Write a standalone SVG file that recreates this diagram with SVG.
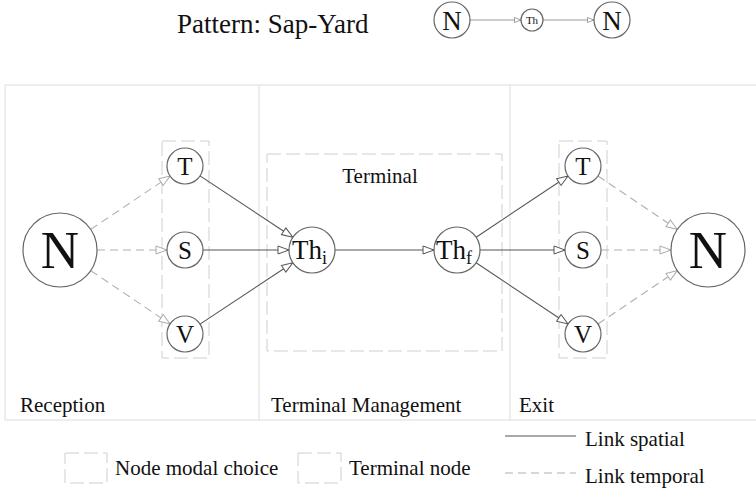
<svg xmlns="http://www.w3.org/2000/svg" width="756" height="492" viewBox="0 0 756 492" font-family="'Liberation Serif', 'DejaVu Serif', serif">
<style>
text{font-family:'Liberation Serif','DejaVu Serif',serif;fill:#111}
.frame{stroke:#dcdcdc;stroke-width:1;fill:none}
.box{stroke:#cfcfcf;stroke-width:1;fill:none;stroke-dasharray:14 5}
.node{fill:#fff;stroke:#666;stroke-width:1.2}
.sp{stroke:#555;stroke-width:1.1;fill:none}
.tp{stroke:#b0b0b0;stroke-width:1.1;fill:none;stroke-dasharray:8 5}
.lab{font-size:21px}
.c{text-anchor:middle}
.m{font-size:25px}
</style>
<defs>
<marker id="a" markerUnits="userSpaceOnUse" markerWidth="14" markerHeight="12" refX="12" refY="5" orient="auto" viewBox="0 0 14 10">
<path d="M1,1 L12,5 L1,9 Z" fill="#fff" stroke="#555" stroke-width="1"/>
</marker>
<marker id="at" markerUnits="userSpaceOnUse" markerWidth="14" markerHeight="12" refX="12" refY="5" orient="auto" viewBox="0 0 14 10">
<path d="M1,1 L12,5 L1,9 Z" fill="#fff" stroke="#aaa" stroke-width="1"/>
</marker>
<marker id="as" markerUnits="userSpaceOnUse" markerWidth="8" markerHeight="8" refX="7" refY="3" orient="auto" viewBox="0 0 8 6">
<path d="M0.5,0.5 L7,3 L0.5,5.5 Z" fill="#fff" stroke="#888" stroke-width="0.8"/>
</marker>
</defs>

<g id="title">
<text x="177" y="33" font-size="27">Pattern: Sap-Yard</text>
</g>
<g id="pattern-connectors">
<line x1="470" y1="20" x2="521" y2="20" stroke="#999" stroke-width="1" marker-end="url(#as)"/>
<line x1="543" y1="20" x2="594" y2="20" stroke="#999" stroke-width="1" marker-end="url(#as)"/>
</g>
<g id="pattern-n1"><circle class="node" cx="452" cy="20" r="18"/><text class="c" x="452" y="29.5" font-size="27">N</text></g>
<g id="pattern-th"><circle class="node" cx="532" cy="20" r="11"/><text class="c" x="532" y="24" font-size="11">Th</text></g>
<g id="pattern-n2"><circle class="node" cx="612" cy="20" r="18"/><text class="c" x="612" y="29.5" font-size="27">N</text></g>

<g id="frame">
<line class="frame" x1="5" y1="85" x2="756" y2="85"/>
<line class="frame" x1="5" y1="420" x2="756" y2="420"/>
<line class="frame" x1="5" y1="85" x2="5" y2="420"/>
<line class="frame" x1="259" y1="85" x2="259" y2="420"/>
<line class="frame" x1="510" y1="85" x2="510" y2="420"/>
<text class="lab" x="20" y="412">Reception</text>
<text class="lab" x="271" y="412">Terminal Management</text>
<text class="lab" x="519" y="412">Exit</text>
</g>

<g id="modal-box-left"><rect class="box" x="162" y="141" width="47" height="217"/></g>
<g id="terminal-box"><rect class="box" x="267" y="154" width="235" height="197"/><text class="lab c" x="380" y="183">Terminal</text></g>
<g id="modal-box-right"><rect class="box" x="559" y="141" width="48" height="217"/></g>

<g id="connectors">
<line class="tp" x1="90.7" y1="229.4" x2="170.1" y2="176" marker-end="url(#at)"/>
<line class="tp" x1="97" y1="250" x2="167" y2="250" marker-end="url(#at)"/>
<line class="tp" x1="90.7" y1="270.6" x2="170.1" y2="324" marker-end="url(#at)"/>
<line class="sp" x1="200" y1="175.9" x2="292.8" y2="237.3" marker-end="url(#a)"/>
<line class="sp" x1="203" y1="250" x2="289" y2="250" marker-end="url(#a)"/>
<line class="sp" x1="200" y1="324.1" x2="292.8" y2="262.7" marker-end="url(#a)"/>
<line class="sp" x1="335" y1="250" x2="434" y2="250" marker-end="url(#a)"/>
<line class="sp" x1="476.1" y1="237.2" x2="568" y2="176" marker-end="url(#a)"/>
<line class="sp" x1="480" y1="250" x2="565" y2="250" marker-end="url(#a)"/>
<line class="sp" x1="476.1" y1="262.8" x2="568" y2="324" marker-end="url(#a)"/>
<line class="tp" x1="598" y1="176" x2="677.3" y2="229.4" marker-end="url(#at)"/>
<line class="tp" x1="601" y1="250" x2="671" y2="250" marker-end="url(#at)"/>
<line class="tp" x1="598" y1="324" x2="677.3" y2="270.6" marker-end="url(#at)"/>
</g>

<g id="n-left"><circle class="node" cx="60" cy="250" r="37"/><text class="c" x="60" y="268" font-size="53">N</text></g>
<g id="t-left"><circle class="node" cx="185" cy="166" r="18"/><text class="c m" x="185" y="174.5">T</text></g>
<g id="s-left"><circle class="node" cx="185" cy="250" r="18"/><text class="c m" x="185" y="258.5">S</text></g>
<g id="v-left"><circle class="node" cx="185" cy="334" r="18"/><text class="c m" x="185" y="342.5">V</text></g>
<g id="th-i"><circle class="node" cx="312" cy="250" r="23"/><text x="292" y="259" font-size="27">Th<tspan font-size="18" dy="5">i</tspan></text></g>
<g id="th-f"><circle class="node" cx="457" cy="250" r="23"/><text x="436" y="259" font-size="27">Th<tspan font-size="18" dy="5">f</tspan></text></g>
<g id="t-right"><circle class="node" cx="583" cy="166" r="18"/><text class="c m" x="583" y="174.5">T</text></g>
<g id="s-right"><circle class="node" cx="583" cy="250" r="18"/><text class="c m" x="583" y="258.5">S</text></g>
<g id="v-right"><circle class="node" cx="583" cy="334" r="18"/><text class="c m" x="583" y="342.5">V</text></g>
<g id="n-right"><circle class="node" cx="708" cy="250" r="37"/><text class="c" x="708" y="268" font-size="53">N</text></g>

<g id="legend">
<rect class="box" x="65" y="453" width="42" height="30"/>
<text x="115" y="475" font-size="21">Node modal choice</text>
<rect class="box" x="298" y="453" width="43" height="30"/>
<text x="349" y="475" font-size="21">Terminal node</text>
<line class="sp" x1="505" y1="436" x2="576" y2="436"/>
<text x="585" y="446" font-size="21">Link spatial</text>
<line class="tp" x1="505" y1="473" x2="576" y2="473"/>
<text x="585" y="483" font-size="21">Link temporal</text>
</g>
</svg>
